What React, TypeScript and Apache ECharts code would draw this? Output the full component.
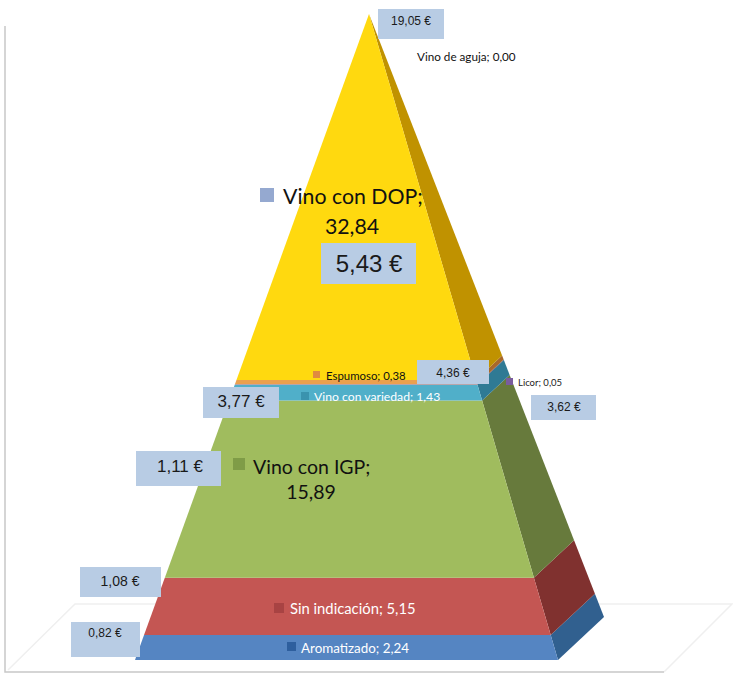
import React, { useEffect, useRef } from "react";
import * as echarts from "echarts";

const names = ["Aromatizado", "Sin indicación", "Vino con IGP", "Vino con variedad", "Licor", "Espumoso", "Vino de aguja", "Vino con DOP"];
const values = [2.24, 5.15, 15.89, 1.43, 0.05, 0.38, 0.0, 32.84];
const prices = ["0,82 €", "1,08 €", "1,11 €", "3,77 €", "3,62 €", "4,36 €", "19,05 €", "5,43 €"];
const frontColors = ["#5585C2", "#C45653", "#A0BC5E", "#50AFC9", "#8064A2", "#EBA04E", "#D9D9D9", "#FFD90F"];
const sideColors = ["#31608F", "#80312F", "#677A3C", "#2F7A94", "#4F3D68", "#A8682A", "#999999", "#C09200"];
const swatchColors = ["#2E5F9E", "#A84343", "#7F9C47", "#3A93AE", "#7A5C9D", "#E08A40", "#FFFFFF", "#95A9D0"];
const labelColors = ["#FFFFFF", "#FFFFFF", "#111111", "#FFFFFF", "#222222", "#111111", "#111111", "#111111"];

const total = values.reduce((a, b) => a + b, 0);

// Plot rectangle: 1 x unit = 1 px, y runs from the floor to the apex.
const plotTop = 14;
const plotHeight = 646;
const pxPerUnit = plotHeight / total;
const frontLeft = [135, 0];
const frontRight = [558, 0];
const backRight = [604, 43 / pxPerUnit];
const apex = [369, total];

const fmt = (v: number) => v.toFixed(2).replace(".", ",");

type LabelSpot = { swatch: number[]; x: number; y: number; size: number; lineH?: number; center?: number };
const labelSpots: LabelSpot[] = [
  { swatch: [287, 642, 9], x: 301, y: 648, size: 13.4 },
  { swatch: [274, 603, 10], x: 290, y: 608, size: 14.8 },
  { swatch: [233, 458, 12], x: 253, y: 466, size: 19.5, lineH: 25, center: 311 },
  { swatch: [301, 392, 8], x: 314, y: 396, size: 12.2 },
  { swatch: [506, 378, 7], x: 518, y: 382, size: 9.5 },
  { swatch: [313, 371, 7], x: 326, y: 375, size: 11.4 },
  { swatch: [0, 0, 0], x: 417, y: 56, size: 11.7 },
  { swatch: [260, 188, 14], x: 283, y: 196, size: 21.3, lineH: 30, center: 352 },
];
const priceBoxes = [
  [71, 622, 69, 35, 105, 633, 12],
  [80, 567, 81, 30, 120, 581, 14],
  [136, 451, 85, 35, 180, 466, 17],
  [203, 387, 76, 31, 241, 401, 17],
  [531, 395, 65, 25, 564, 407, 12],
  [417, 360, 72, 24, 453, 373, 12],
  [378, 9, 66, 30, 411, 21, 12],
  [321, 243, 95, 41, 369, 263, 24],
];

const LABEL_FONT = "Lato, 'Noto Sans', sans-serif";
const PRICE_FONT = "'Liberation Sans', Arial, sans-serif";

function stackData() {
  let running = 0;
  return values.map((v) => {
    const row = [running, running + v];
    running += v;
    return row;
  });
}

function lerpPoint(a: number[], b: number[], t: number) {
  return [a[0] + (b[0] - a[0]) * t, a[1] + (b[1] - a[1]) * t];
}

function buildGraphics() {
  const g: any[] = [];
  // floor and walls
  g.push({ type: "polyline", silent: true, z: 0, shape: { points: [[8, 670], [75, 604], [732, 604], [664, 672]] }, style: { fill: "none", stroke: "#EFEFEF", lineWidth: 1.5 } });
  g.push({ type: "polyline", silent: true, z: 0, shape: { points: [[5, 26], [5, 672], [664, 672]] }, style: { fill: "none", stroke: "#C8C8C8", lineWidth: 1.5 } });
  names.forEach((name, i) => {
    const s = labelSpots[i];
    if (s.swatch[2] > 0) {
      g.push({ type: "rect", silent: true, z: 10, shape: { x: s.swatch[0], y: s.swatch[1], width: s.swatch[2], height: s.swatch[2] }, style: { fill: swatchColors[i] } });
    }
    const common = { fill: labelColors[i], fontFamily: LABEL_FONT, fontSize: s.size };
    if (s.center !== undefined) {
      g.push({ type: "text", silent: true, z: 10, x: s.x, y: s.y, style: { ...common, text: name + ";", align: "left", verticalAlign: "middle" } });
      g.push({ type: "text", silent: true, z: 10, x: s.center, y: s.y + (s.lineH as number), style: { ...common, text: fmt(values[i]), align: "center", verticalAlign: "middle" } });
    } else {
      g.push({ type: "text", silent: true, z: 10, x: s.x, y: s.y, style: { ...common, text: name + "; " + fmt(values[i]), align: "left", verticalAlign: "middle" } });
    }
    const b = priceBoxes[i];
    g.push({ type: "rect", silent: true, z: 9, shape: { x: b[0], y: b[1], width: b[2], height: b[3] }, style: { fill: "#B8CCE4" } });
    g.push({ type: "text", silent: true, z: 10, x: b[4], y: b[5], style: { text: prices[i], fill: "#1A1A1A", fontFamily: PRICE_FONT, fontSize: b[6], align: "center", verticalAlign: "middle" } });
  });
  return g;
}

export default function App() {
  const ref = useRef<HTMLDivElement>(null);
  useEffect(() => {
    const chart = echarts.init(ref.current as HTMLDivElement, null, { renderer: "svg" });
    chart.setOption({
      animation: false,
      backgroundColor: "#FFFFFF",
      grid: { left: 0, top: plotTop, width: 733, height: plotHeight },
      xAxis: { type: "value", min: 0, max: 733, show: false },
      yAxis: { type: "value", min: 0, max: total, show: false },
      series: [
        {
          type: "custom",
          silent: true,
          z: 5,
          clip: false,
          data: stackData(),
          encode: { y: [0, 1] },
          renderItem: (params: any, api: any) => {
            const v0 = api.value(0) as number;
            const v1 = api.value(1) as number;
            if (v1 - v0 <= 0) return null;
            const at = (corner: number[], v: number) => api.coord(lerpPoint(corner, apex, v / total));
            const i = params.dataIndex;
            return {
              type: "group",
              children: [
                { type: "polygon", shape: { points: [at(frontRight, v0), at(backRight, v0), at(backRight, v1), at(frontRight, v1)] }, style: { fill: sideColors[i] } },
                { type: "polygon", shape: { points: [at(frontLeft, v0), at(frontRight, v0), at(frontRight, v1), at(frontLeft, v1)] }, style: { fill: frontColors[i] } },
              ],
            };
          },
        },
      ],
      graphic: buildGraphics(),
    });
    return () => chart.dispose();
  }, []);
  return <div ref={ref} style={{ position: "absolute", left: 0, top: 0, width: 733, height: 684 }} />;
}
